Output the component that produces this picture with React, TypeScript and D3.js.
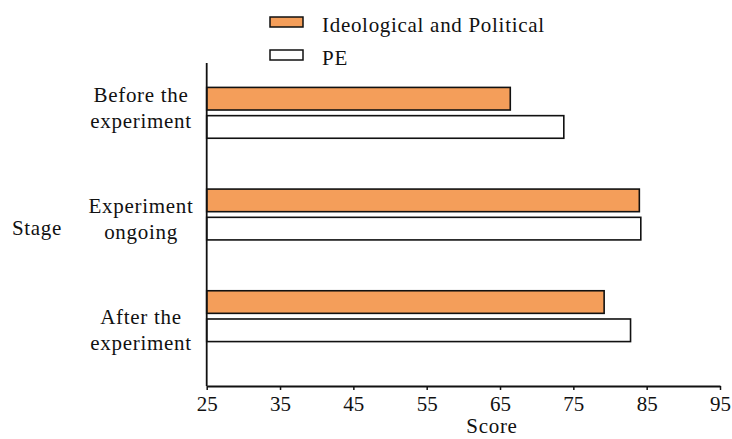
import * as d3 from "d3";
import { useRef, useEffect } from "react";

const stages = ["Before the experiment", "Experiment ongoing", "After the experiment"];
const stageLines = [
  ["Before the", "experiment"],
  ["Experiment", "ongoing"],
  ["After the", "experiment"],
];
const series = ["Ideological and Political", "PE"];
const ideoValues = [66.4, 84.0, 79.2];
const peValues = [73.7, 84.2, 82.8];
const xTicks = [25, 35, 45, 55, 65, 75, 85, 95];
const colors = ["#F49E5A", "#FFFFFF"];

const W = 732;
const H = 439;
const FONT = "Liberation Serif";

const App = () => {
  const ref = useRef<SVGSVGElement>(null);

  useEffect(() => {
    const svg = d3.select(ref.current);
    svg.selectAll("*").remove();

    const x = d3.scaleLinear().domain([25, 95]).range([206.7, 720]);
    const y = d3.scaleBand().domain(stages).range([62, 367]).paddingInner(0.5).paddingOuter(0.25);
    const yInner = d3.scaleBand().domain(series).range([0, y.bandwidth()]).paddingInner(0.2);
    const yLabel = d3.scaleBand().domain(stages).range([60, 392]);

    const rows = stages.map((s, i) => ({ stage: s, values: [ideoValues[i], peValues[i]] }));

    // bars
    const g = svg.append("g");
    rows.forEach((r) => {
      series.forEach((s, j) => {
        g.append("rect")
          .attr("x", x(25))
          .attr("y", (y(r.stage) as number) + (yInner(s) as number))
          .attr("width", x(r.values[j]) - x(25))
          .attr("height", yInner.bandwidth())
          .attr("fill", colors[j])
          .attr("stroke", "#111")
          .attr("stroke-width", 1.6);
      });
    });

    // x axis
    const xAxis = svg
      .append("g")
      .attr("transform", "translate(0,386)")
      .call(d3.axisBottom(x).tickValues(xTicks).tickSize(4).tickSizeOuter(0).tickPadding(6));
    xAxis.select(".domain").attr("stroke", "#111").attr("stroke-width", 1.8);
    xAxis.selectAll(".tick line").attr("stroke", "#111").attr("stroke-width", 1.5);
    xAxis
      .selectAll(".tick text")
      .style("font-family", FONT)
      .style("font-size", "21px")
      .attr("fill", "#111");

    // y axis line
    svg
      .append("line")
      .attr("x1", x(25))
      .attr("x2", x(25))
      .attr("y1", 63)
      .attr("y2", 386)
      .attr("stroke", "#111")
      .attr("stroke-width", 1.8);

    const label = (sel: d3.Selection<SVGTextElement, unknown, null, undefined>) =>
      sel
        .style("font-family", FONT)
        .style("font-size", "21px")
        .style("letter-spacing", "0.7px")
        .attr("fill", "#111");

    // category labels
    stages.forEach((s, i) => {
      const c = (yLabel(s) as number) + yLabel.bandwidth() / 2;
      const t = svg.append("text").attr("text-anchor", "middle").call(label);
      stageLines[i].forEach((ln, k) => {
        t.append("tspan").attr("x", 141).attr("y", c - 13 + k * 26).text(ln);
      });
    });

    // axis titles
    svg.append("text").attr("x", 37).attr("y", 235).attr("text-anchor", "middle").call(label).text("Stage");
    svg.append("text").attr("x", 492).attr("y", 433).attr("text-anchor", "middle").call(label).text("Score");

    // legend
    series.forEach((s, j) => {
      const ly = 17 + j * 33;
      svg
        .append("rect")
        .attr("x", 270)
        .attr("y", ly)
        .attr("width", 33)
        .attr("height", 10)
        .attr("fill", colors[j])
        .attr("stroke", "#111")
        .attr("stroke-width", 1.5);
      svg.append("text").attr("x", 322).attr("y", ly + 15).call(label).text(s);
    });
  }, []);

  return (
    <svg
      ref={ref}
      width={W}
      height={H}
      style={{ position: "absolute", left: 0, top: 0, background: "#fff" }}
    ></svg>
  );
};

export default App;
